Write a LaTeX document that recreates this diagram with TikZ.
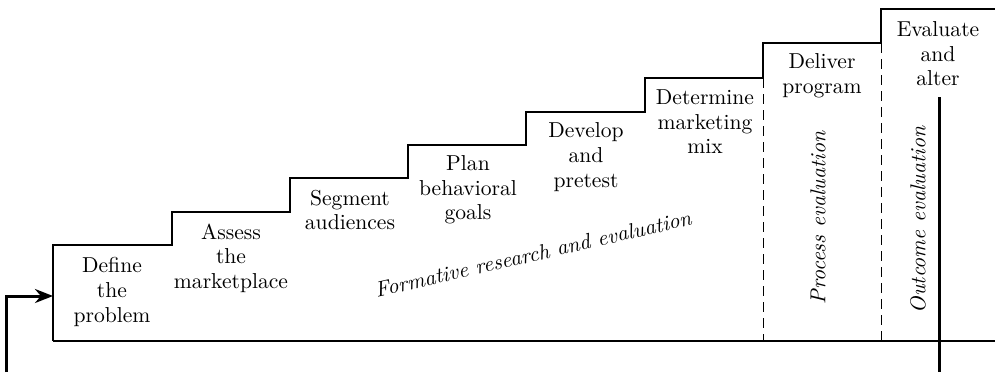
\documentclass[tikz,border=0pt]{standalone}
\usepackage{tikz}
\usetikzlibrary{arrows.meta,positioning}
\newcommand{\stepfont}{\fontsize{10.8}{12.3}\selectfont}
\begin{document}
\begin{tikzpicture}[x=0.5pt,y=0.5pt,
  stair/.style={line width=1pt},
  divider/.style={line width=0.5pt,dash pattern=on 5pt off 3pt},
  feedback/.style={line width=1.5pt},
  steptext/.style={align=center,font=\stepfont,inner sep=0pt},
  evaltext/.style={font=\stepfont\itshape,inner sep=0pt}]
\useasboundingbox (0,0) rectangle (995,372);
% the steps
\node[steptext] (define) at (112,80) {Define\\the\\problem};
\node[steptext] (assess) at (231,114) {Assess\\the\\marketplace};
\node[steptext] (segment) at (350,162) {Segment\\audiences};
\node[steptext] (plan) at (468,182) {Plan\\behavioral\\goals};
\node[steptext] (develop) at (586,215) {Develop\\and\\pretest};
\node[steptext] (mix) at (705,250) {Determine\\marketing\\mix};
\node[steptext] (deliver) at (822,296) {Deliver\\program};
\node[steptext] (evaluate) at (938,318) {Evaluate\\and\\alter};
% kinds of evaluation
\node[evaltext,rotate=13] (formative) at (533,118) {Formative research and evaluation};
\node[evaltext,rotate=90] (process) at (818,154) {Process evaluation};
\node[evaltext,rotate=90] (outcome) at (918,152) {Outcome evaluation};
% staircase
\draw[stair] (53,31) -- (53,127) -- (172,127) -- (172,160) -- (290,160) -- (290,194)
  -- (408,194) -- (408,227) -- (526,227) -- (526,260) -- (645,260) -- (645,294)
  -- (763,294) -- (763,329) -- (881,329) -- (881,363) -- (995,363);
\draw[stair] (53,31) -- (995,31);
\draw[divider] (763,294) -- (763,31);
\draw[divider] (881,329) -- (881,31);
% feedback loop
\coordinate (backtop) at (939,275);
\coordinate (backbottom) at (939,0);
\coordinate (loopstart) at (6,0);
\coordinate (entry) at (53,76);
\draw[feedback] (backtop) -- (backbottom);
\draw[feedback,-{Stealth[length=9pt,width=7pt]}] (loopstart) |- (entry);
\end{tikzpicture}
\end{document}
